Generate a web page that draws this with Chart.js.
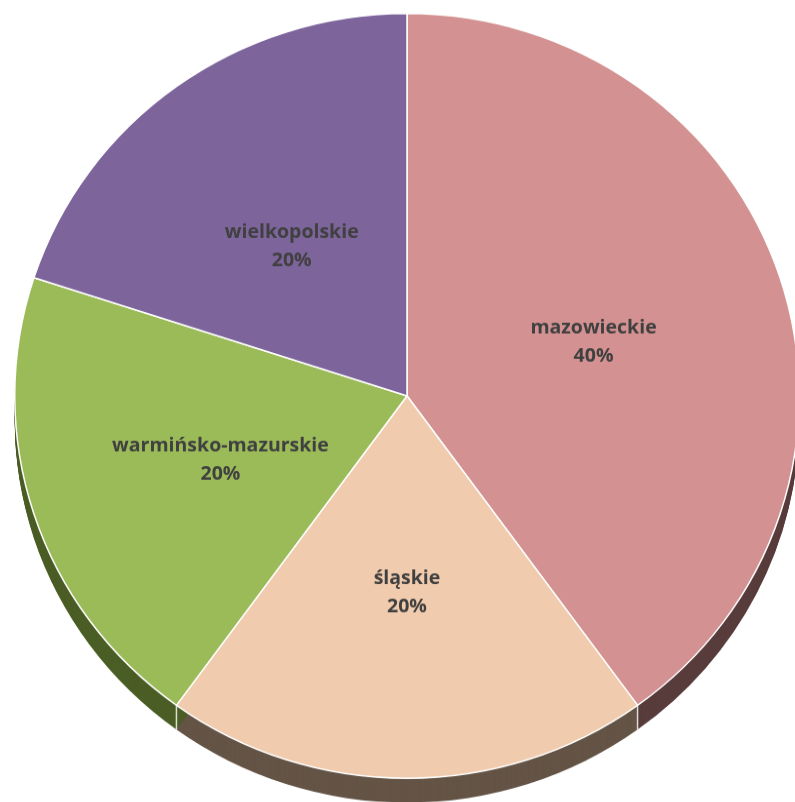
<!DOCTYPE html>
<html>
<head>
<meta charset="utf-8">
<script src="https://cdn.jsdelivr.net/npm/chart.js@4.4.0/dist/chart.umd.min.js"></script>
<style>
    html, body { margin: 0; padding: 0; background: #ffffff; overflow: hidden; }
    #wrap { width: 830px; height: 830px; transform: scaleY(0.975); transform-origin: 0 0; }
</style>
</head>
<body>
<div id="wrap"><canvas id="pieChart" width="830" height="830"></canvas></div>
<script>
// =========================
// Chart Data
// =========================

const regions = ["mazowieckie", "śląskie", "warmińsko-mazurskie", "wielkopolskie"];
const shares = [40, 20, 20, 20];
const percentLabels = ["40%", "20%", "20%", "20%"];

const topColors = ["#d39291", "#f0cbad", "#9bbb59", "#7d649b"];
const sideColors = ["#583c3c", "#645446", "#4b5e26", "#4a3a5e"];

const DEPTH = 25;

// =========================
// 3D side of the pie
// =========================

const sidePlugin = {
    id: "pieSide",
    beforeDatasetsDraw(chart) {
        const ctx = chart.ctx;
        const arcs = chart.getDatasetMeta(0).data;
        ctx.save();
        arcs.forEach((arc, i) => {
            const p = arc.getProps(["x", "y", "startAngle", "endAngle", "outerRadius"], true);
            ctx.fillStyle = sideColors[i];
            for (let d = DEPTH; d >= 1; d--) {
                ctx.beginPath();
                ctx.moveTo(p.x, p.y + d);
                ctx.arc(p.x, p.y + d, p.outerRadius, p.startAngle, p.endAngle);
                ctx.closePath();
                ctx.fill();
            }
        });
        // light edges between side segments
        ctx.strokeStyle = "rgba(255,255,255,0.8)";
        ctx.lineWidth = 1.5;
        arcs.forEach((arc) => {
            const p = arc.getProps(["x", "y", "startAngle", "outerRadius"], true);
            const ex = p.x + p.outerRadius * Math.cos(p.startAngle);
            const ey = p.y + p.outerRadius * Math.sin(p.startAngle);
            if (Math.sin(p.startAngle) > 0.05) {
                ctx.beginPath();
                ctx.moveTo(ex, ey);
                ctx.lineTo(ex, ey + DEPTH);
                ctx.stroke();
            }
        });
        ctx.restore();
    }
};

// =========================
// Slice labels
// =========================

const labelPlugin = {
    id: "sliceLabels",
    afterDatasetsDraw(chart) {
        const ctx = chart.ctx;
        const arcs = chart.getDatasetMeta(0).data;
        ctx.save();
        ctx.fillStyle = "#404040";
        ctx.font = "bold 19.5px 'Open Sans', sans-serif";
        ctx.textAlign = "center";
        ctx.textBaseline = "middle";
        arcs.forEach((arc, i) => {
            const pos = arc.tooltipPosition(true);
            ctx.fillText(regions[i], pos.x, pos.y - 9);
            ctx.fillText(percentLabels[i], pos.x, pos.y + 20);
        });
        ctx.restore();
    }
};

// =========================
// Create Chart
// =========================

const ctx = document.getElementById("pieChart");

const chart = new Chart(ctx, {
    type: "pie",
    data: {
        labels: regions,
        datasets: [{
            data: shares,
            backgroundColor: topColors,
            borderColor: "#ffffff",
            borderWidth: 1.5,
            hoverOffset: 0,
            offset: 0
        }]
    },
    options: {
        responsive: false,
        animation: false,
        events: [],
        layout: {
            padding: { left: 14, top: 13, right: 30, bottom: 31 }
        },
        plugins: {
            legend: { display: false },
            tooltip: { enabled: false }
        }
    },
    plugins: [sidePlugin, labelPlugin]
});
</script>
</body>
</html>
